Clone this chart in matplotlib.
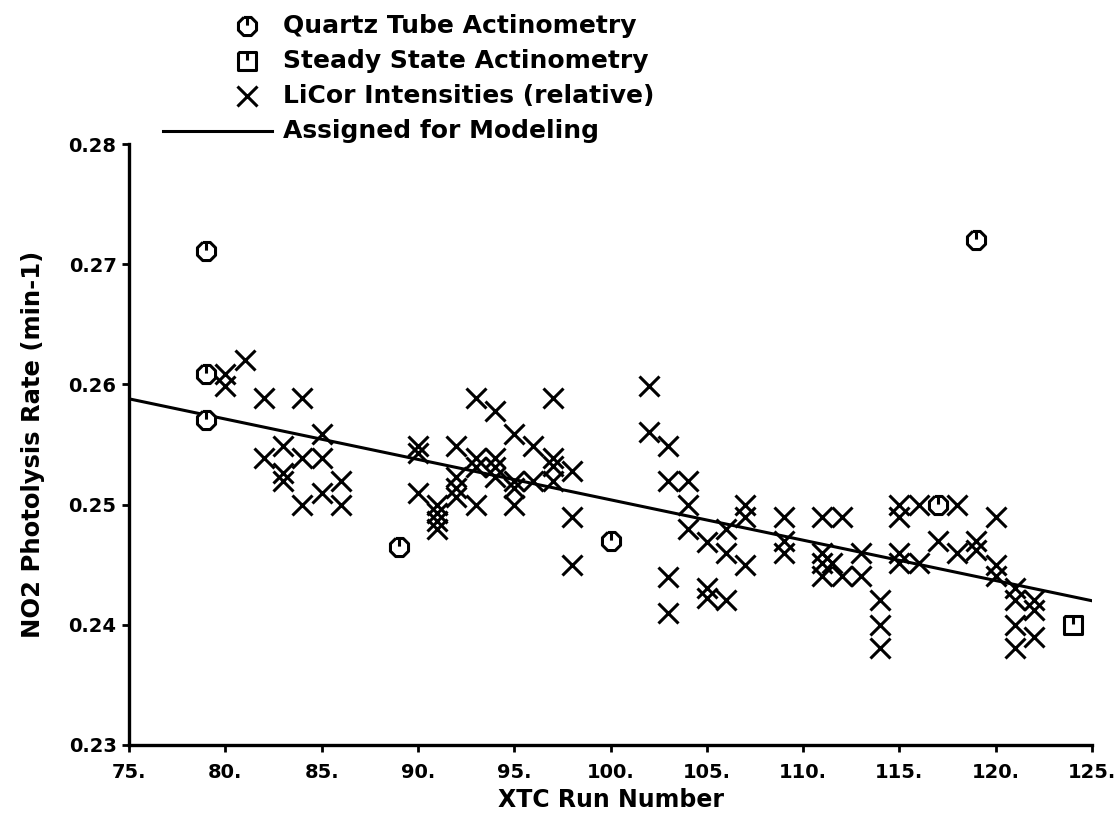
import matplotlib
matplotlib.use("Agg")
import matplotlib.pyplot as plt
from matplotlib.path import Path

# data
quartz_run = [79, 79, 79, 89, 100, 117, 119]
quartz_rate = [0.2711, 0.2609, 0.2570, 0.2465, 0.2470, 0.2500, 0.2720]

steady_run = [124]
steady_rate = [0.2400]

licor_run = [80, 80, 81, 82, 82, 83, 83, 83, 84, 84, 84, 85, 85, 85, 86, 86,
             90, 90, 90, 91, 91, 91, 91,
             92, 92, 92, 92, 93, 93, 93, 93, 94, 94, 94, 94, 95, 95, 95, 95,
             96, 96, 97, 97, 97, 97, 98, 98, 98,
             102, 102, 103, 103, 103, 103, 104, 104, 104, 105, 105, 105,
             106, 106, 106, 107, 107, 107, 109, 109, 109,
             111, 111, 111, 111, 111.5, 112, 112, 113, 113, 114, 114, 114,
             115, 115, 115, 115, 116, 116, 117, 118, 118, 119, 119,
             120, 120, 120, 121, 121, 121, 121, 122, 122, 122]
licor_rate = [0.2609, 0.2599, 0.2620, 0.2589, 0.2539, 0.2549, 0.2526, 0.2520,
              0.2589, 0.2539, 0.2500, 0.2559, 0.2539, 0.2510, 0.2520, 0.2500,
              0.2549, 0.2543, 0.2510, 0.2500, 0.2493, 0.2486, 0.2480,
              0.2549, 0.2523, 0.2514, 0.2506, 0.2589, 0.2539, 0.2531, 0.2500,
              0.2578, 0.2539, 0.2531, 0.2523, 0.2559, 0.2520, 0.2514, 0.2500,
              0.2549, 0.2520, 0.2589, 0.2539, 0.2532, 0.2520, 0.2528, 0.2490,
              0.2450,
              0.2599, 0.2560, 0.2549, 0.2520, 0.2440, 0.2410, 0.2520, 0.2500,
              0.2480, 0.2469, 0.2431, 0.2422,
              0.2480, 0.2460, 0.2421, 0.2500, 0.2490, 0.2450, 0.2490, 0.2470,
              0.2460,
              0.2490, 0.2460, 0.2451, 0.2441, 0.2451, 0.2490, 0.2441, 0.2441,
              0.2460, 0.2421, 0.2400, 0.2381,
              0.2500, 0.2490, 0.2460, 0.2451, 0.2500, 0.2451, 0.2470, 0.2500,
              0.2460, 0.2470, 0.2462,
              0.2490, 0.2450, 0.2441, 0.2431, 0.2421, 0.2400, 0.2381, 0.2421,
              0.2412, 0.2390]

model_run = [75, 125]
model_rate = [0.2588, 0.2420]

legend_labels = ['Quartz Tube Actinometry', 'Steady State Actinometry',
                 'LiCor Intensities (relative)', 'Assigned for Modeling']

x_ticks = [75, 80, 85, 90, 95, 100, 105, 110, 115, 120, 125]
y_ticks = [0.23, 0.24, 0.25, 0.26, 0.27, 0.28]


def octagon_marker():
    # octagon with a short stroke hanging from the top
    c, s = 1.0, 0.414
    pts = [(-s, c), (s, c), (c, s), (c, -s), (s, -c), (-s, -c), (-c, -s), (-c, s), (-s, c)]
    verts = pts + [(0, c), (0, 0.1)]
    codes = [Path.MOVETO] + [Path.LINETO] * 8 + [Path.MOVETO, Path.LINETO]
    return Path(verts, codes)


def square_marker():
    pts = [(-1, 1), (1, 1), (1, -1), (-1, -1), (-1, 1)]
    verts = pts + [(0, 1), (0, 0.1)]
    codes = [Path.MOVETO] + [Path.LINETO] * 4 + [Path.MOVETO, Path.LINETO]
    return Path(verts, codes)


plt.rcParams['font.family'] = 'DejaVu Sans'
plt.rcParams['font.weight'] = 'bold'

fig = plt.figure(figsize=(11.15, 8.15), dpi=100)
ax = fig.add_axes([129 / 1115, 70 / 815, 963 / 1115, 601 / 815])

oct_m = octagon_marker()
sq_m = square_marker()
lw = 2.2

ax.plot(model_run, model_rate, color='black', linewidth=lw, zorder=2)
ax.plot(licor_run, licor_rate, linestyle='none', marker='x', markersize=14,
        markeredgewidth=lw, color='black', zorder=3)
ax.plot(quartz_run, quartz_rate, linestyle='none', marker=oct_m, markersize=13,
        markeredgewidth=lw, markerfacecolor='white', markeredgecolor='black', zorder=4)
ax.plot(steady_run, steady_rate, linestyle='none', marker=sq_m, markersize=13,
        markeredgewidth=lw, markerfacecolor='white', markeredgecolor='black', zorder=4)

ax.set_xlim(75, 125)
ax.set_ylim(0.23, 0.28)
ax.set_xticks(x_ticks)
ax.set_xticklabels([f'{t}.' for t in x_ticks])
ax.set_yticks(y_ticks)
ax.set_yticklabels([f'{t:.2f}' for t in y_ticks])
ax.tick_params(direction='out', length=5, width=2, labelsize=14)
ax.tick_params(axis='x', pad=8)
ax.tick_params(axis='y', pad=4)
for lab in ax.get_xticklabels() + ax.get_yticklabels():
    lab.set_fontweight('bold')
for side in ['top', 'right']:
    ax.spines[side].set_visible(False)
for side in ['left', 'bottom']:
    ax.spines[side].set_linewidth(2.4)
ax.set_xlabel('XTC Run Number', fontsize=17, fontweight='bold', labelpad=4)
ax.set_ylabel('NO2 Photolysis Rate (min-1)', fontsize=17.5, fontweight='bold', labelpad=17)

# hand-built legend above the axes, in pixel layout coordinates
lg = fig.add_axes([0, 0, 1, 1], facecolor='none')
lg.set_xlim(0, 1115)
lg.set_ylim(815, 0)
lg.axis('off')
rows = [26, 61, 96, 131]
mark_x, text_x = 247, 283
lg.plot(mark_x, rows[0], marker=oct_m, markersize=13, markeredgewidth=lw,
        markerfacecolor='white', markeredgecolor='black')
lg.plot(mark_x, rows[1], marker=sq_m, markersize=13, markeredgewidth=lw,
        markerfacecolor='white', markeredgecolor='black')
lg.plot(mark_x, rows[2], marker='x', markersize=14, markeredgewidth=lw, color='black')
lg.plot([163, 272], [rows[3], rows[3]], color='black', linewidth=lw)
for y, label in zip(rows, legend_labels):
    lg.text(text_x, y, label, fontsize=18, fontweight='bold', va='center', ha='left')

fig.savefig('out.png', dpi=100)
